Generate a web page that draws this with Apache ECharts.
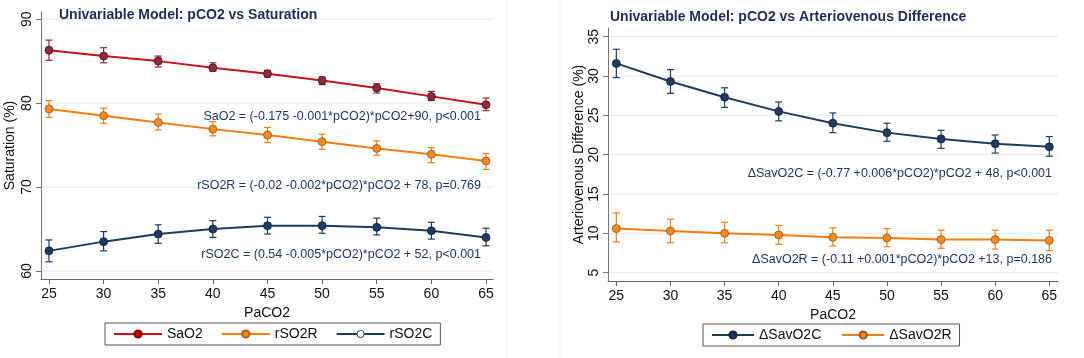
<!DOCTYPE html>
<html>
<head>
<meta charset="utf-8">
<script src="https://cdn.jsdelivr.net/npm/echarts@6/dist/echarts.min.js"></script>
<style>
html,body{margin:0;padding:0;background:#fff;}
#chart{width:1084px;height:358px;}
</style>
</head>
<body>
<div id="chart"></div>
<script>
// PaCO2 points (x axis of both panels)
var paco2 = [25, 30, 35, 40, 45, 50, 55, 60, 65];
var xTicks = [25, 30, 35, 40, 45, 50, 55, 60, 65];
var yTicksLeft = [60, 70, 80, 90];
var yTicksRight = [5, 10, 15, 20, 25, 30, 35];

// left panel: saturation (%), mean / lower / upper
var sao2 = [86.3, 85.6, 85.0, 84.2, 83.5, 82.7, 81.8, 80.8, 79.8];
var sao2Lo = [85.1, 84.8, 84.3, 83.8, 83.1, 82.2, 81.2, 80.3, 79.1];
var sao2Hi = [87.5, 86.6, 85.6, 84.8, 83.9, 83.1, 82.3, 81.4, 80.6];

var rso2r = [79.3, 78.5, 77.7, 76.9, 76.2, 75.4, 74.6, 73.9, 73.1];
var rso2rLo = [78.3, 77.6, 76.8, 76.1, 75.3, 74.5, 73.8, 72.9, 72.1];
var rso2rHi = [80.3, 79.4, 78.7, 77.8, 77.1, 76.3, 75.5, 74.7, 74.0];

var rso2c = [62.4, 63.5, 64.4, 65.0, 65.4, 65.4, 65.2, 64.8, 64.0];
var rso2cLo = [61.1, 62.4, 63.3, 64.0, 64.4, 64.5, 64.3, 63.8, 63.0];
var rso2cHi = [63.7, 64.7, 65.5, 66.0, 66.4, 66.5, 66.3, 65.8, 65.1];

// right panel: arteriovenous difference (%)
var savo2c = [31.6, 29.3, 27.3, 25.5, 24.0, 22.8, 22.0, 21.4, 21.0];
var savo2cLo = [29.8, 27.8, 26.0, 24.3, 22.8, 21.7, 20.8, 20.2, 19.8];
var savo2cHi = [33.4, 30.8, 28.5, 26.7, 25.3, 24.0, 23.1, 22.5, 22.3];

var savo2r = [10.6, 10.3, 10.0, 9.8, 9.5, 9.4, 9.2, 9.2, 9.1];
var savo2rLo = [8.9, 8.8, 8.8, 8.6, 8.4, 8.3, 8.1, 8.0, 7.8];
var savo2rHi = [12.6, 11.8, 11.4, 11.0, 10.7, 10.6, 10.4, 10.4, 10.4];

var eqSaO2 = 'SaO2 = (-0.175 -0.001*pCO2)*pCO2+90, p<0.001';
var eqRSO2R = 'rSO2R = (-0.02 -0.002*pCO2)*pCO2 + 78, p=0.769';
var eqRSO2C = 'rSO2C = (0.54 -0.005*pCO2)*pCO2 + 52, p<0.001';
var eqSavC = '\u0394SavO2C = (-0.77 +0.006*pCO2)*pCO2 + 48, p<0.001';
var eqSavR = '\u0394SavO2R = (-0.11 +0.001*pCO2)*pCO2 +13, p=0.186';

var FONT = "'Liberation Sans', Arial, sans-serif";
var NAVY = '#1f3b5f';
var TXT = '#1f3864';
var GRID = '#e2eaf0';

var myChart;

window.onload = function () {
    myChart = echarts.init(document.getElementById('chart'));
    loadChart();
};

function pairs(xs, ys) {
    var out = [];
    for (var i = 0; i < xs.length; i++) out.push([xs[i], ys[i]]);
    return out;
}

function triples(xs, lo, hi) {
    var out = [];
    for (var i = 0; i < xs.length; i++) out.push([xs[i], lo[i], hi[i]]);
    return out;
}

// error bar with caps
function errorBar(color) {
    return function (params, api) {
        var x = api.value(0);
        var lo = api.coord([x, api.value(1)]);
        var hi = api.coord([x, api.value(2)]);
        var w = 3.5;
        var st = {stroke: color, lineWidth: 1.2};
        return {
            type: 'group',
            children: [
                {type: 'line', shape: {x1: lo[0], y1: lo[1], x2: hi[0], y2: hi[1]}, style: st},
                {type: 'line', shape: {x1: lo[0] - w, y1: lo[1], x2: lo[0] + w, y2: lo[1]}, style: st},
                {type: 'line', shape: {x1: hi[0] - w, y1: hi[1], x2: hi[0] + w, y2: hi[1]}, style: st}
            ]
        };
    };
}

// horizontal grid line at each y tick
function gridSeries(idx, ticks, xAt) {
    var data = [];
    for (var i = 0; i < ticks.length; i++) data.push([xAt, ticks[i]]);
    return {
        type: 'custom',
        xAxisIndex: idx,
        yAxisIndex: idx,
        silent: true,
        z: 0,
        data: data,
        renderItem: function (params, api) {
            var p = api.coord([api.value(0), api.value(1)]);
            var cs = params.coordSys;
            return {
                type: 'line',
                shape: {x1: cs.x + 1, y1: p[1], x2: cs.x + cs.width, y2: p[1]},
                style: {stroke: GRID, lineWidth: 1}
            };
        }
    };
}

function errSeries(name, idx, data, color) {
    return {
        name: name + ' CI',
        type: 'custom',
        xAxisIndex: idx,
        yAxisIndex: idx,
        renderItem: errorBar(color),
        data: data,
        z: 2,
        silent: true
    };
}

function lineSeries(name, idx, data, lineColor, dotColor, edge) {
    return {
        name: name,
        type: 'line',
        xAxisIndex: idx,
        yAxisIndex: idx,
        data: data,
        symbol: 'circle',
        symbolSize: 8,
        z: 3,
        lineStyle: {color: lineColor, width: 2},
        itemStyle: {color: dotColor, borderColor: edge, borderWidth: 0.8}
    };
}

function xAxisOpt(idx, min, max) {
    return {
        type: 'value',
        gridIndex: idx,
        min: min,
        max: max,
        name: 'PaCO2',
        nameLocation: 'middle',
        nameGap: 25,
        nameTextStyle: {fontSize: 14, color: '#111', fontFamily: FONT},
        axisLine: {onZero: false, lineStyle: {color: '#666', width: 1}},
        axisTick: {customValues: xTicks, length: 5, lineStyle: {color: '#666'}},
        axisLabel: {customValues: xTicks, fontSize: 14, color: '#111', margin: 8, fontFamily: FONT},
        splitLine: {show: false}
    };
}

function yAxisOpt(idx, min, max, ticks, name, gap) {
    return {
        type: 'value',
        gridIndex: idx,
        min: min,
        max: max,
        name: name,
        nameLocation: 'middle',
        nameGap: gap,
        nameTextStyle: {fontSize: 14, color: '#111', fontFamily: FONT},
        axisLine: {show: true, lineStyle: {color: '#777', width: 1}},
        axisTick: {show: true, customValues: ticks, length: 5, lineStyle: {color: '#777'}},
        axisLabel: {customValues: ticks, rotate: 90, fontSize: 14, color: '#111', margin: 7, fontFamily: FONT},
        splitLine: {show: false}
    };
}

function eqText(str, right, y) {
    return {
        type: 'text',
        right: right,
        top: y - 8,
        z: 100,
        style: {text: str, fill: TXT, font: '12.5px ' + FONT}
    };
}

function loadChart() {
    var option = {
        animation: false,
        textStyle: {fontFamily: FONT},
        title: [
            {text: 'Univariable Model: pCO2 vs Saturation', left: 54, top: 3,
                textStyle: {fontSize: 14, fontWeight: 'bold', color: '#1c2e55', fontFamily: FONT}},
            {text: 'Univariable Model: pCO2 vs Arteriovenous Difference', left: 605, top: 5,
                textStyle: {fontSize: 14, fontWeight: 'bold', color: '#1c2e55', fontFamily: FONT}}
        ],
        grid: [
            {left: 41, top: 12, width: 452, height: 267, containLabel: false},
            {left: 608, top: 28, width: 450, height: 253, containLabel: false}
        ],
        legend: [
            {
                left: 105, top: 323, padding: [4, 8, 4, 8],
                borderColor: '#555', borderWidth: 1,
                itemWidth: 48, itemHeight: 9, itemGap: 18,
                textStyle: {fontSize: 14, color: '#111', fontFamily: FONT},
                data: [
                    {name: 'SaO2', itemStyle: {color: '#c00000', borderColor: '#8b0000'}},
                    {name: 'rSO2R', itemStyle: {color: '#f28a1e', borderColor: '#b25f10'}},
                    {name: 'rSO2C', itemStyle: {color: '#ffffff', borderColor: NAVY, borderWidth: 1}}
                ]
            },
            {
                left: 703, top: 324, padding: [4, 8, 4, 8],
                borderColor: '#555', borderWidth: 1,
                itemWidth: 42, itemHeight: 9, itemGap: 20,
                textStyle: {fontSize: 14, color: '#111', fontFamily: FONT},
                data: ['\u0394SavO2C', '\u0394SavO2R']
            }
        ],
        xAxis: [
            xAxisOpt(0, 24.27, 65.64),
            xAxisOpt(1, 24.23, 65.8)
        ],
        yAxis: [
            yAxisOpt(0, 59.05, 90.85, yTicksLeft, 'Saturation (%)', 24),
            yAxisOpt(1, 3.94, 36.1, yTicksRight, 'Arteriovenous Difference (%)', 21)
        ],
        graphic: [
            {type: 'line', shape: {x1: 507, y1: 0, x2: 507, y2: 358}, style: {stroke: '#f0f0f0', lineWidth: 1}},
            {type: 'line', shape: {x1: 560, y1: 0, x2: 560, y2: 358}, style: {stroke: '#f0f0f0', lineWidth: 1}},
            eqText(eqSaO2, 1084 - 481, 118),
            eqText(eqRSO2R, 1084 - 481, 187),
            eqText(eqRSO2C, 1084 - 481, 256),
            eqText(eqSavC, 1084 - 1052, 175),
            eqText(eqSavR, 1084 - 1052, 261)
        ],
        series: [
            gridSeries(0, yTicksLeft, 45),
            gridSeries(1, yTicksRight, 45),
            errSeries('SaO2', 0, triples(paco2, sao2Lo, sao2Hi), '#8b2c3b'),
            errSeries('rSO2R', 0, triples(paco2, rso2rLo, rso2rHi), '#f47f16'),
            errSeries('rSO2C', 0, triples(paco2, rso2cLo, rso2cHi), NAVY),
            lineSeries('SaO2', 0, pairs(paco2, sao2), '#c8101e', '#8b2c3b', '#4a1018'),
            lineSeries('rSO2R', 0, pairs(paco2, rso2r), '#f57c10', '#f58a1f', '#8a5a2b'),
            lineSeries('rSO2C', 0, pairs(paco2, rso2c), NAVY, NAVY, '#10243f'),
            errSeries('\u0394SavO2C', 1, triples(paco2, savo2cLo, savo2cHi), NAVY),
            errSeries('\u0394SavO2R', 1, triples(paco2, savo2rLo, savo2rHi), '#f47f16'),
            lineSeries('\u0394SavO2C', 1, pairs(paco2, savo2c), NAVY, NAVY, '#10243f'),
            lineSeries('\u0394SavO2R', 1, pairs(paco2, savo2r), '#f57c10', '#f58a1f', '#8a5a2b')
        ]
    };
    myChart.setOption(option);
}
</script>
</body>
</html>
